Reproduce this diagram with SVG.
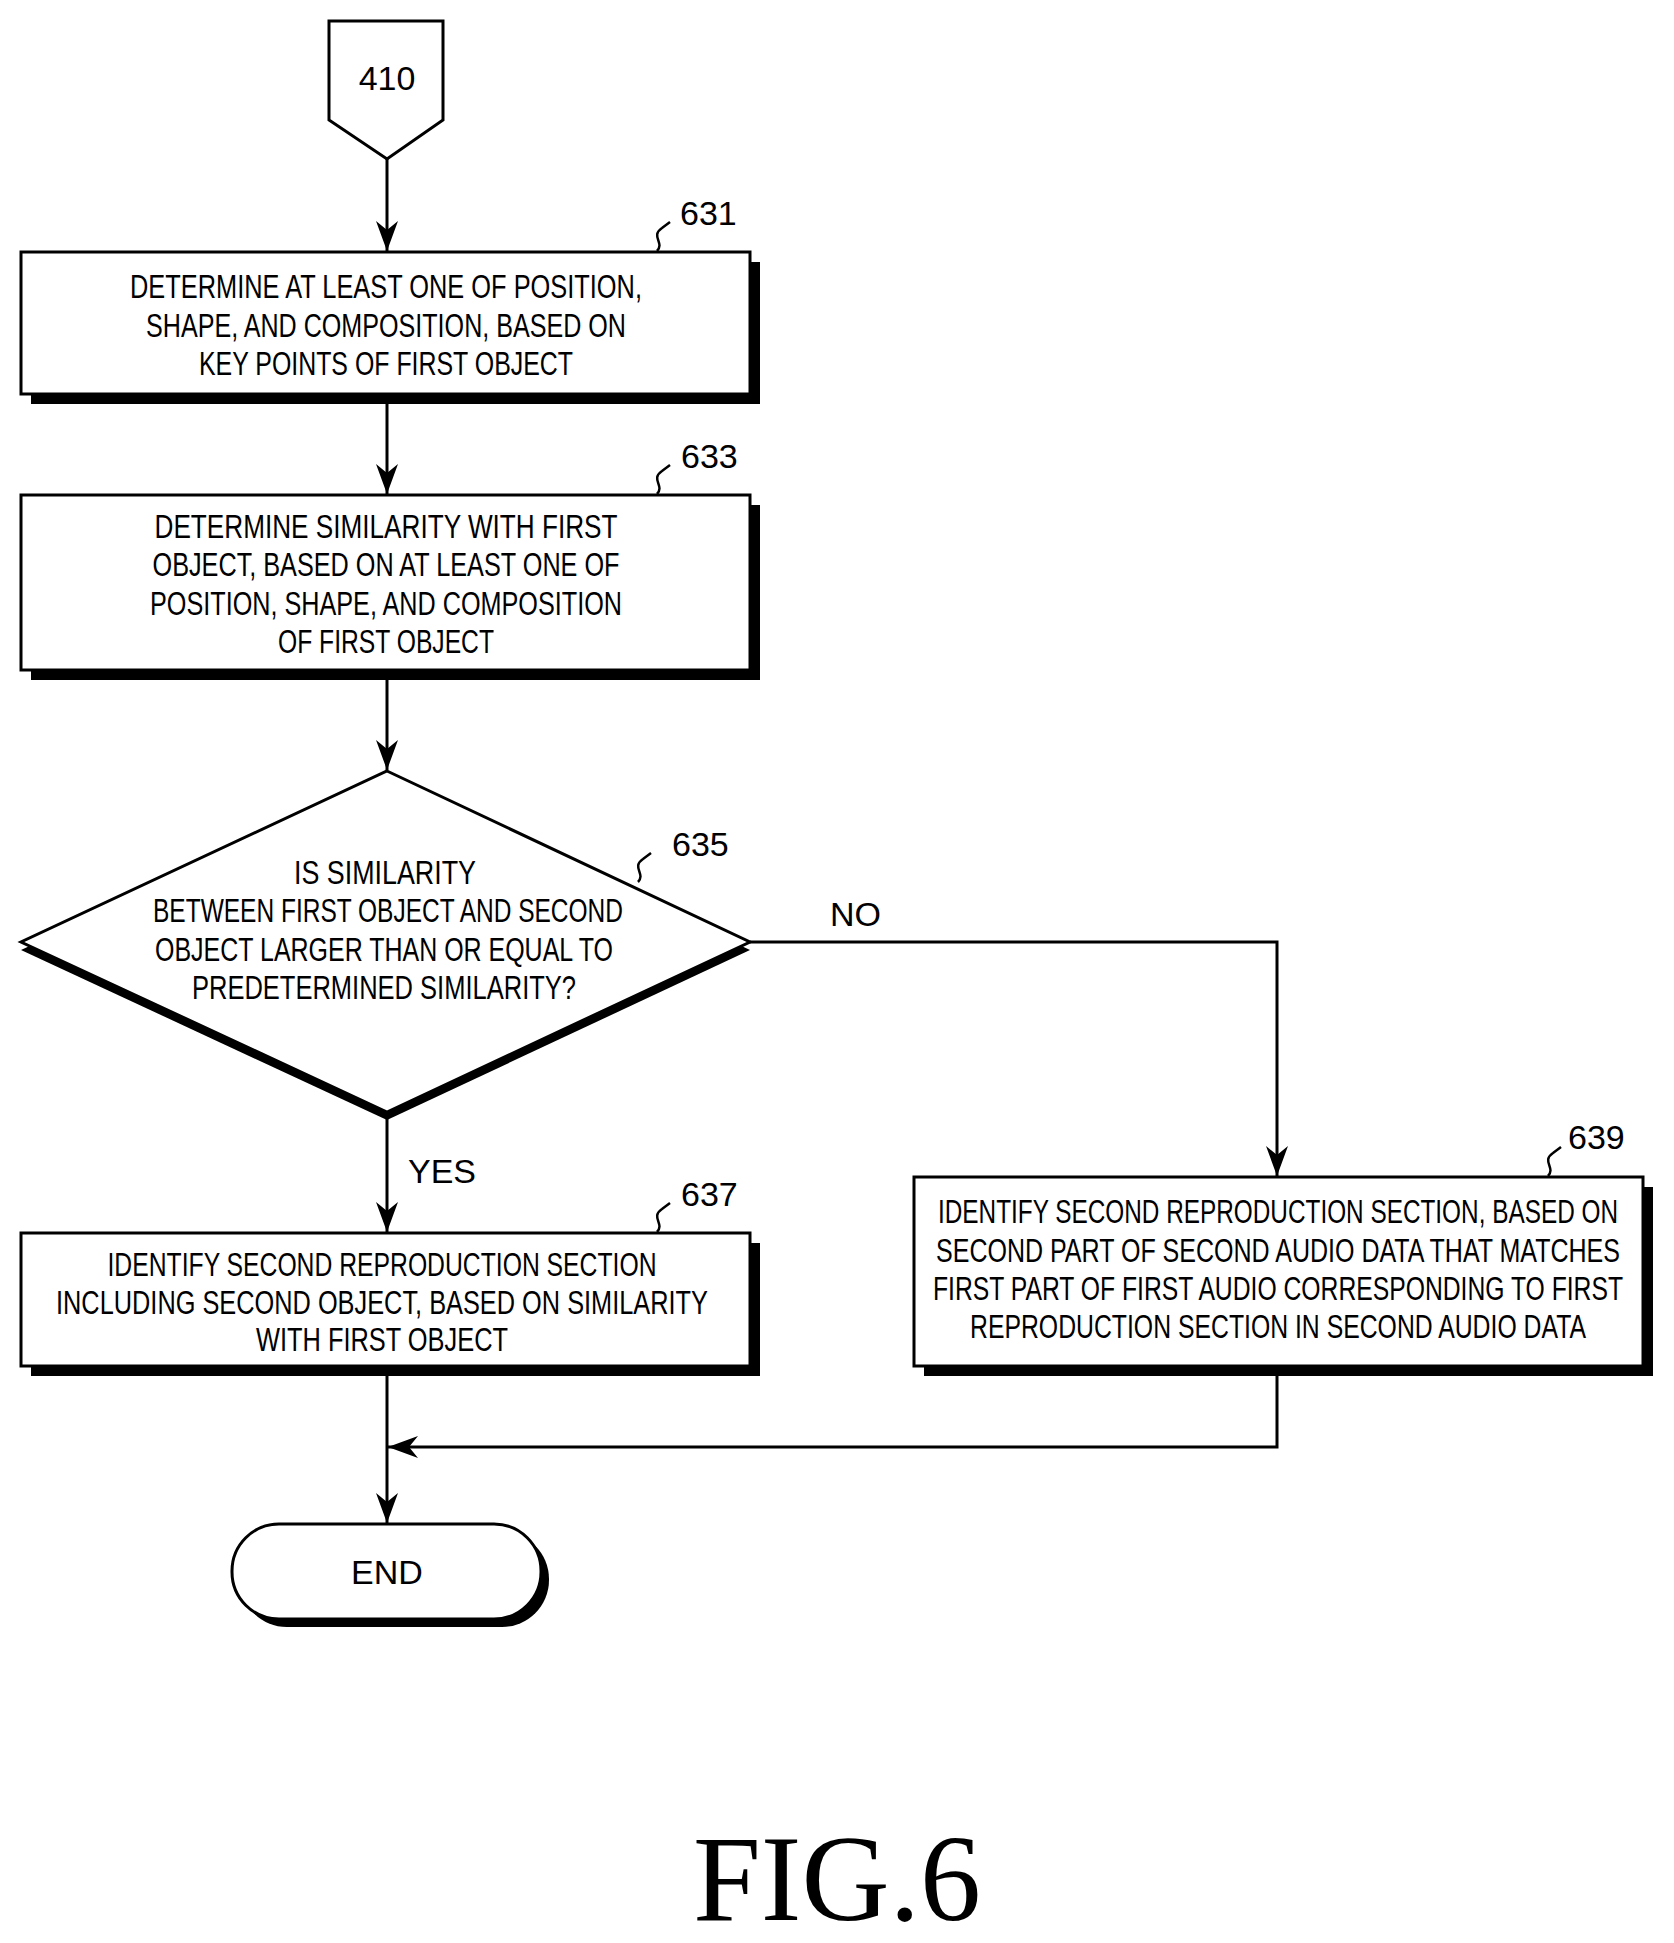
<svg xmlns="http://www.w3.org/2000/svg" width="1674" height="1943" viewBox="0 0 1674 1943">
<style>
.t{font-family:"Liberation Sans",Arial,sans-serif;font-size:34px;text-anchor:middle;fill:#000}
.l{font-family:"Liberation Sans",Arial,sans-serif;font-size:34px;fill:#000}
.b{fill:#fff;stroke:#000;stroke-width:3}
.s{fill:#000}
.c{fill:none;stroke:#000;stroke-width:3}
.q{fill:none;stroke:#000;stroke-width:2.5}
</style>
<defs><marker id="a" markerWidth="30" markerHeight="22" refX="30" refY="11" orient="auto" markerUnits="userSpaceOnUse" viewBox="0 0 30 22"><path d="M0,0 L30,11 L0,22 L9,11 Z" fill="#000"/></marker></defs>
<rect width="1674" height="1943" fill="#fff"/>
<g id="connectors">
<line class="c" x1="387" y1="159" x2="387" y2="251" marker-end="url(#a)"/>
<line class="c" x1="387" y1="404" x2="387" y2="494" marker-end="url(#a)"/>
<line class="c" x1="387" y1="680" x2="387" y2="770" marker-end="url(#a)"/>
<line class="c" x1="387" y1="1118" x2="387" y2="1232" marker-end="url(#a)"/>
<polyline class="c" points="750,942 1277,942 1277,1176" marker-end="url(#a)"/>
<line class="c" x1="387" y1="1376" x2="387" y2="1523" marker-end="url(#a)"/>
<polyline class="c" points="1277,1376 1277,1447 388,1447" marker-end="url(#a)"/>
<text class="l" x="830" y="926">NO</text>
<text class="l" x="408" y="1183">YES</text>
</g>
<g id="n410">
<polygon class="b" points="329,21 443,21 443,120 387,159 329,120"/>
<text class="t" x="387" y="90">410</text>
</g>
<g id="n631">
<rect class="s" x="31" y="262" width="729" height="142"/>
<rect class="b" x="21" y="252" width="729" height="142"/>
<text class="t" x="386" y="298" textLength="512" lengthAdjust="spacingAndGlyphs">DETERMINE AT LEAST ONE OF POSITION,</text>
<text class="t" x="386" y="337" textLength="480" lengthAdjust="spacingAndGlyphs">SHAPE, AND COMPOSITION, BASED ON</text>
<text class="t" x="386" y="375" textLength="374" lengthAdjust="spacingAndGlyphs">KEY POINTS OF FIRST OBJECT</text>
<path class="q" d="M657,251 C665,243 650,236 662,228 L670,222"/>
<text class="l" x="680" y="225">631</text>
</g>
<g id="n633">
<rect class="s" x="31" y="505" width="729" height="175"/>
<rect class="b" x="21" y="495" width="729" height="175"/>
<text class="t" x="386" y="538" textLength="463" lengthAdjust="spacingAndGlyphs">DETERMINE SIMILARITY WITH FIRST</text>
<text class="t" x="386" y="576" textLength="467" lengthAdjust="spacingAndGlyphs">OBJECT, BASED ON AT LEAST ONE OF</text>
<text class="t" x="386" y="615" textLength="472" lengthAdjust="spacingAndGlyphs">POSITION, SHAPE, AND COMPOSITION</text>
<text class="t" x="386" y="653" textLength="216" lengthAdjust="spacingAndGlyphs">OF FIRST OBJECT</text>
<path class="q" d="M657,494 C665,486 650,479 662,471 L670,465"/>
<text class="l" x="681" y="468">633</text>
</g>
<g id="n635">
<polygon class="s" points="387,779 750,950 387,1120 21,950"/>
<polygon class="b" points="387,771 750,942 387,1112 21,942"/>
<text class="t" x="385" y="884" textLength="182" lengthAdjust="spacingAndGlyphs">IS SIMILARITY</text>
<text class="t" x="388" y="922" textLength="470" lengthAdjust="spacingAndGlyphs">BETWEEN FIRST OBJECT AND SECOND</text>
<text class="t" x="384" y="961" textLength="458" lengthAdjust="spacingAndGlyphs">OBJECT LARGER THAN OR EQUAL TO</text>
<text class="t" x="384" y="999" textLength="384" lengthAdjust="spacingAndGlyphs">PREDETERMINED SIMILARITY?</text>
<path class="q" d="M638,882 C646,874 631,867 643,859 L651,853"/>
<text class="l" x="672" y="856">635</text>
</g>
<g id="n637">
<rect class="s" x="31" y="1243" width="729" height="133"/>
<rect class="b" x="21" y="1233" width="729" height="133"/>
<text class="t" x="382" y="1276" textLength="549" lengthAdjust="spacingAndGlyphs">IDENTIFY SECOND REPRODUCTION SECTION</text>
<text class="t" x="382" y="1314" textLength="652" lengthAdjust="spacingAndGlyphs">INCLUDING SECOND OBJECT, BASED ON SIMILARITY</text>
<text class="t" x="382" y="1351" textLength="252" lengthAdjust="spacingAndGlyphs">WITH FIRST OBJECT</text>
<path class="q" d="M657,1232 C665,1224 650,1217 662,1209 L670,1203"/>
<text class="l" x="681" y="1206">637</text>
</g>
<g id="n639">
<rect class="s" x="924" y="1187" width="729" height="189"/>
<rect class="b" x="914" y="1177" width="729" height="189"/>
<text class="t" x="1278" y="1223" textLength="680" lengthAdjust="spacingAndGlyphs">IDENTIFY SECOND REPRODUCTION SECTION, BASED ON</text>
<text class="t" x="1278" y="1262" textLength="684" lengthAdjust="spacingAndGlyphs">SECOND PART OF SECOND AUDIO DATA THAT MATCHES</text>
<text class="t" x="1278" y="1300" textLength="690" lengthAdjust="spacingAndGlyphs">FIRST PART OF FIRST AUDIO CORRESPONDING TO FIRST</text>
<text class="t" x="1278" y="1338" textLength="616" lengthAdjust="spacingAndGlyphs">REPRODUCTION SECTION IN SECOND AUDIO DATA</text>
<path class="q" d="M1548,1176 C1556,1168 1541,1161 1553,1153 L1561,1147"/>
<text class="l" x="1568" y="1149">639</text>
</g>
<g id="end">
<rect class="s" x="240" y="1532" width="309" height="95" rx="47"/>
<rect class="b" x="232" y="1524" width="309" height="95" rx="47"/>
<text class="t" x="387" y="1584">END</text>
</g>
<text x="837" y="1920" font-family="Liberation Serif,serif" font-size="122" text-anchor="middle">FIG.6</text>
</svg>
